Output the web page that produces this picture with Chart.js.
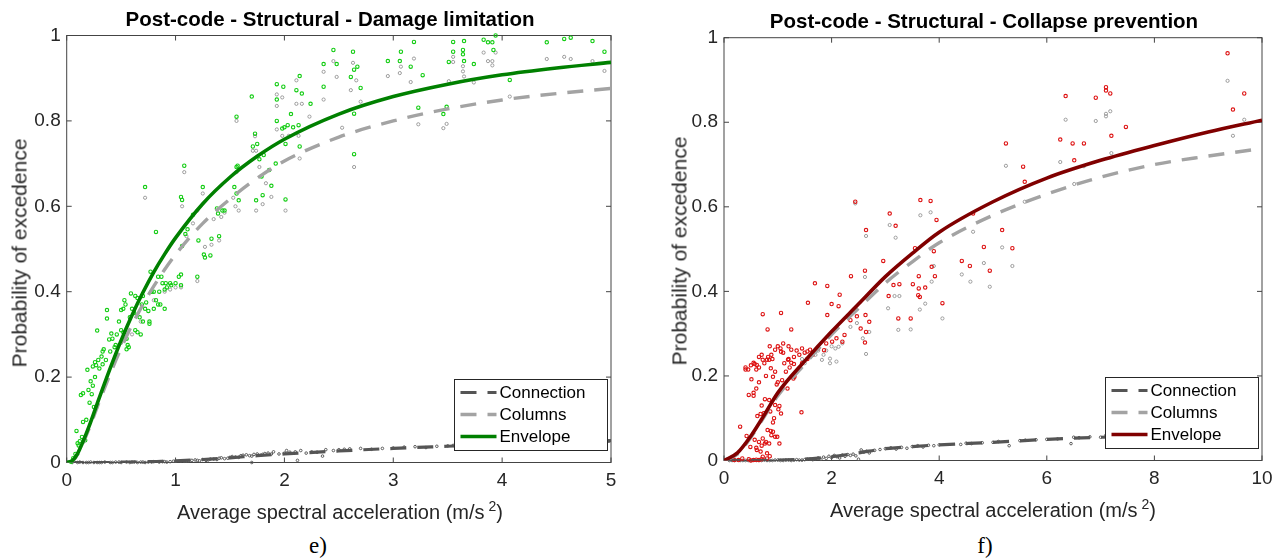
<!DOCTYPE html>
<html><head><meta charset="utf-8">
<script src="https://cdn.jsdelivr.net/npm/chart.js@4.4.1/dist/chart.umd.min.js"></script>
<style>
html,body{margin:0;padding:0;background:#fff;}
body{width:1281px;height:558px;position:relative;overflow:hidden;font-family:"Liberation Sans",Arial,Helvetica,sans-serif;color:#262626;}
canvas{position:absolute;top:0;}
.t{position:absolute;white-space:nowrap;transform:translate(-50%,-50%);line-height:1;}
.title{font-weight:bold;font-size:20.5px;color:#000;}
.xt{font-size:20px;}
.yt{font-size:21px;transform:translate(-50%,-50%) rotate(-90deg);}
.cap{font-family:"Liberation Serif","Times New Roman",serif;font-size:23px;color:#000;}
.sup{font-size:14px;position:relative;top:-8px;margin-left:4px;}
</style></head>
<body>
<canvas id="cL" width="640" height="500" style="left:0;width:640px;height:500px"></canvas>
<canvas id="cR" width="621" height="500" style="left:660px;width:621px;height:500px"></canvas>
<div class="t title" style="left:330px;top:19px">Post-code - Structural - Damage limitation</div>
<div class="t title" style="left:984px;top:21px">Post-code - Structural - Collapse prevention</div>
<div class="t yt" style="left:19px;top:253px">Probability of excedence</div>
<div class="t yt" style="left:679px;top:251px">Probability of excedence</div>
<div class="t xt" style="left:340px;top:512px">Average spectral acceleration (m/s<span class="sup">2</span>)</div>
<div class="t xt" style="left:993px;top:510px">Average spectral acceleration (m/s<span class="sup">2</span>)</div>
<div class="t cap" style="left:318px;top:545px">e)</div>
<div class="t cap" style="left:985px;top:545px">f)</div>
<script>
// ---------- Damage limitation (left) ----------
const dlXTicks = [0, 1, 2, 3, 4, 5];
const yTicks = [0, 0.2, 0.4, 0.6, 0.8, 1];
const dlCurveX = [0, 0.05, 0.1, 0.2, 0.3, 0.4, 0.5, 0.6, 0.7, 0.8, 0.9, 1.0, 1.25, 1.5, 1.75, 2, 2.5, 3, 3.5, 4, 4.5, 5];
const dlEnvelope = [0, 0.004, 0.021, 0.081, 0.152, 0.221, 0.286, 0.345, 0.398, 0.446, 0.488, 0.526, 0.606, 0.668, 0.717, 0.757, 0.816, 0.857, 0.886, 0.908, 0.924, 0.937];
const dlColumns = [0, 0.003, 0.019, 0.076, 0.143, 0.208, 0.268, 0.322, 0.37, 0.413, 0.452, 0.487, 0.56, 0.617, 0.666, 0.706, 0.762, 0.8, 0.828, 0.849, 0.864, 0.876];
const dlConnection = [0, 0, 0, 0, 0, 0, 0.001, 0.001, 0.002, 0.002, 0.003, 0.004, 0.007, 0.011, 0.016, 0.02, 0.027, 0.033, 0.038, 0.043, 0.047, 0.051];
const dlEnvPts = [[0.04,0.002],[0.06,0.01],[0.08,0.02],[0.09,0.074],[0.1,0.045],[0.12,0.05],[0.17,0.052],[0.13,0.158],[0.15,0.162],[0.15,0.095],[0.19,0.217],[0.2,0.17],[0.22,0.19],[0.24,0.18],[0.26,0.2],[0.24,0.225],[0.26,0.235],[0.27,0.228],[0.29,0.24],[0.25,0.13],[0.27,0.128],[0.28,0.309],[0.32,0.248],[0.33,0.26],[0.34,0.265],[0.37,0.357],[0.37,0.337],[0.39,0.288],[0.41,0.302],[0.44,0.27],[0.45,0.275],[0.5,0.357],[0.52,0.36],[0.5,0.31],[0.52,0.305],[0.53,0.38],[0.54,0.37],[0.55,0.29],[0.56,0.275],[0.55,0.265],[0.57,0.27],[0.59,0.396],[0.63,0.39],[0.65,0.385],[0.63,0.31],[0.65,0.305],[0.68,0.3],[0.67,0.34],[0.7,0.33],[0.72,0.36],[0.75,0.355],[0.76,0.33],[0.76,0.325],[0.73,0.375],[0.78,0.4],[0.8,0.4],[0.84,0.37],[0.86,0.37],[0.9,0.405],[0.92,0.41],[0.9,0.36],[0.88,0.42],[0.91,0.42],[0.95,0.42],[0.96,0.415],[1.0,0.42],[1.05,0.415],[0.77,0.447],[0.84,0.435],[0.87,0.435],[1.03,0.435],[1.2,0.435],[1.05,0.44],[0.11,0.04],[0.14,0.06],[0.18,0.1],[0.21,0.14],[0.23,0.16],[0.3,0.22],[0.33,0.23],[0.36,0.24],[0.4,0.26],[0.42,0.29],[0.46,0.3],[0.48,0.33],[0.58,0.34],[0.6,0.36],[0.62,0.35],[0.69,0.37],[0.7,0.39],[0.8,0.36],[0.82,0.38],[0.85,0.4],
[0.72,0.645],[1.08,0.695],[0.82,0.54],[1.05,0.622],[1.06,0.615],[1.25,0.645],[1.16,0.58],[1.11,0.546],[1.09,0.535],[1.06,0.507],[1.21,0.52],[1.26,0.487],[1.27,0.48],[1.32,0.485],[1.33,0.524],[1.38,0.595],[1.39,0.583],[1.4,0.53],[1.43,0.59],[1.45,0.59],[1.56,0.63],[1.54,0.645],[1.58,0.614],[1.56,0.692],[1.57,0.695],[1.56,0.81],[1.7,0.857],[1.71,0.74],[1.73,0.77],[1.75,0.746],[1.77,0.71],[1.79,0.67],[1.8,0.626],[1.74,0.614],[1.81,0.72],[1.86,0.685],[1.88,0.648],[1.92,0.7],[1.93,0.886],[1.93,0.85],[1.93,0.8],[1.99,0.88],[1.98,0.782],[2.0,0.785],[2.01,0.616],[2.01,0.746],[2.03,0.79],[2.08,0.785],[2.06,0.816],[2.11,0.872],[2.16,0.864],[2.14,0.905],[2.13,0.79],[2.14,0.74],[2.24,0.84],[2.36,0.933],[2.36,0.88],[2.45,0.966],[2.48,0.933],[2.61,0.903],[2.63,0.962],[2.64,0.92],[2.67,0.927],[2.7,0.877],[2.64,0.817],[2.64,0.722],[2.95,0.94],[3.06,0.94],[3.07,0.962],[3.16,0.927],[3.19,0.985],[3.27,0.907],[3.23,0.831],[3.49,0.833],[3.46,0.816],[3.51,0.938],[3.55,0.985],[3.55,0.962],[3.64,0.966],[3.64,0.956],[3.65,0.94],[3.65,0.987],[3.74,0.933],[3.83,0.99],[3.87,0.984],[3.91,0.984],[3.92,0.966],[3.94,1.0],[4.07,0.896],[4.41,0.984],[4.57,0.992],[4.63,0.995],[4.83,0.987],[4.94,0.962]];
const dlColPts = [[1.56,0.80],[1.73,0.764],[1.71,0.73],[1.74,0.73],[1.77,0.692],[1.83,0.654],[1.88,0.622],[1.74,0.59],[1.8,0.605],[1.93,0.862],[1.93,0.835],[1.93,0.78],[1.98,0.855],[1.98,0.765],[2.01,0.59],[2.04,0.765],[2.11,0.895],[2.11,0.84],[2.16,0.84],[2.13,0.765],[2.14,0.712],[2.23,0.81],[2.36,0.915],[2.36,0.85],[2.45,0.94],[2.48,0.903],[2.53,0.784],[2.61,0.872],[2.63,0.936],[2.66,0.895],[2.64,0.692],[2.7,0.845],[2.95,0.905],[3.06,0.912],[3.07,0.927],[3.16,0.891],[3.19,0.946],[3.23,0.792],[3.46,0.783],[3.49,0.793],[3.51,0.893],[3.55,0.95],[3.55,0.938],[3.64,0.928],[3.64,0.916],[3.65,0.904],[3.74,0.89],[3.83,0.96],[3.87,0.94],[3.91,0.94],[3.91,0.93],[3.94,0.96],[4.07,0.857],[4.41,0.945],[4.57,0.95],[4.63,0.945],[4.83,0.94],[4.94,0.917],
[1.2,0.59],[1.35,0.57],[1.42,0.575],[1.45,0.585],[1.55,0.6],[1.58,0.59],[1.27,0.505],[1.33,0.51],[1.4,0.52],[1.1,0.53],[1.06,0.6],[1.25,0.63],[1.53,0.62],[0.72,0.62],[0.9,0.4],[0.95,0.405],[1.0,0.41],[1.05,0.41],[1.2,0.425],[0.8,0.38],[0.68,0.33],[0.6,0.3],[0.5,0.28],[1.16,0.56],[1.08,0.68],[1.56,0.68]];
const dlConPts = [[0.05,0],[0.1,0],[0.15,0],[0.2,0],[0.25,0],[0.3,0],[0.35,0.001],[0.4,0],[0.45,0.001],[0.5,0],[0.55,0.001],[0.6,0.001],[0.65,0],[0.7,0.001],[0.75,0.001],[0.8,0.002],[0.85,0.001],[0.9,0.002],[0.95,0.002],[1.0,0.003],[1.05,0.004],[1.1,0.003],[1.15,0.005],[1.2,0.005],[1.25,0.007],[1.3,0.006],[1.35,0.008],[1.4,0.01],[1.45,0.009],[1.5,0.012],[1.55,0.013],[1.6,0.016],[1.65,0.018],[1.7,0.015],[1.7,0.0],[1.75,0.02],[1.8,0.019],[1.85,0.022],[1.9,0.025],[1.95,0.02],[2.0,0.022],[2.02,0.028],[2.05,0.024],[2.1,0.025],[2.12,0.005],[2.15,0.028],[2.2,0.022],[2.25,0.025],[2.3,0.024],[2.35,0.015],[2.38,0.03],[2.45,0.028],[2.5,0.03],[2.55,0.031],[2.6,0.032],[2.7,0.033],[2.8,0.031],[2.9,0.033],[3.0,0.034],[3.1,0.036],[3.2,0.037],[3.3,0.035],[3.4,0.038],[3.5,0.039],[3.55,0.04],[3.6,0.041],[3.65,0.038],[3.7,0.04],[3.75,0.041],[3.9,0.042],[4.1,0.044],[4.95,0.046],[4.98,0.05],
[0.12,0.001],[0.18,0.0],[0.22,0.001],[0.28,0.0],[0.32,0.0],[0.42,0.0],[0.48,0.001],[0.58,0.0],[0.62,0.001],[0.68,0.001],[0.72,0.0],[0.78,0.001],[0.88,0.002],[0.92,0.001],[0.98,0.003],[1.08,0.003],[1.12,0.004],[1.18,0.006],[1.22,0.004],[1.28,0.005],[1.32,0.008],[1.38,0.007],[1.42,0.011],[1.48,0.01],[1.52,0.014],[1.58,0.012],[1.62,0.017],[1.68,0.016],[1.72,0.019],[1.78,0.017],[1.82,0.021],[1.88,0.02]];

// ---------- Collapse prevention (right) ----------
const cpXTicks = [0, 2, 4, 6, 8, 10];
const cpCurveX = [0, 0.25, 0.5, 0.75, 1, 1.5, 2, 2.5, 3, 3.5, 4, 5, 6, 7, 8, 9, 10];
const cpEnvelope = [0, 0.018, 0.058, 0.108, 0.16, 0.235, 0.305, 0.37, 0.435, 0.49, 0.54, 0.612, 0.668, 0.71, 0.745, 0.777, 0.805];
const cpColumns = [0, 0.015, 0.055, 0.104, 0.153, 0.228, 0.298, 0.36, 0.42, 0.47, 0.515, 0.58, 0.63, 0.67, 0.70, 0.72, 0.738];
const cpConnection = [0, 0, 0, 0, 0.001, 0.003, 0.009, 0.018, 0.028, 0.033, 0.037, 0.043, 0.05, 0.055, 0.058, 0.061, 0.064];
const cpEnvPts = [[2.44,0.612],[2.64,0.545],[2.62,0.449],[2.36,0.436],[2.96,0.472],[3.08,0.584],[3.19,0.555],[3.55,0.502],[3.65,0.616],[3.84,0.614],[3.95,0.569],[3.9,0.495],[3.86,0.458],[3.62,0.436],[3.92,0.436],[4.42,0.472],[4.57,0.46],[4.63,0.584],[4.83,0.505],[4.94,0.449],[5.17,0.545],[5.24,0.75],[5.36,0.502],[5.56,0.695],[5.59,0.659],[6.25,0.759],[6.35,0.862],[6.48,0.75],[6.51,0.71],[6.69,0.75],[6.91,0.858],[7.1,0.883],[7.1,0.875],[7.18,0.868],[7.2,0.768],[7.47,0.789],[9.36,0.963],[9.46,0.83],[9.67,0.868],
[0.30,0.08],[0.40,0.22],[0.40,0.215],[0.46,0.155],[0.55,0.153],[0.51,0.192],[0.55,0.231],[0.57,0.228],[0.61,0.226],[0.65,0.22],[0.72,0.346],[0.81,0.31],[1.06,0.349],[1.25,0.31],[1.56,0.373],[1.69,0.419],[1.92,0.413],[2.0,0.37],[2.13,0.365],[2.15,0.392],[1.92,0.344],[1.75,0.265],[1.86,0.261],[2.01,0.281],[1.9,0.277],[2.09,0.289],[2.24,0.297],[2.2,0.281],[2.35,0.332],[2.47,0.341],[2.63,0.344],[2.54,0.312],[2.64,0.304],[2.7,0.328],[2.62,0.279],[3.06,0.389],[3.15,0.415],[3.26,0.417],[3.51,0.417],[3.62,0.407],[3.74,0.409],[3.24,0.336],[3.47,0.336],[3.61,0.391],[3.64,0.387],[4.06,0.372],
[0.95,0.262],[1.0,0.27],[1.05,0.265],[1.1,0.255],[1.2,0.27],[1.25,0.262],[1.3,0.245],[1.35,0.26],[1.4,0.25],[1.45,0.265],[1.5,0.255],[1.55,0.258],[1.6,0.262],[1.65,0.25],[1.55,0.24],[1.45,0.23],[1.3,0.228],[1.2,0.24],[0.72,0.238],[0.65,0.245],[0.8,0.238],[0.84,0.238],[0.87,0.218],[0.95,0.21],[0.91,0.198],[1.1,0.277],[1.06,0.257],[1.12,0.23],[1.19,0.238],[1.25,0.231],[1.29,0.194],[1.31,0.198],[1.03,0.129],[0.95,0.131],[1.01,0.121],[1.06,0.111],[0.99,0.056],[1.44,0.114],[0.76,0.145],[0.84,0.143],[0.86,0.116],[0.74,0.112],[0.91,0.09],[0.95,0.056],[0.42,0.058],[0.57,0.049],[0.65,0.044],[0.72,0.052],[0.76,0.04],[0.78,0.044],[0.84,0.04],[0.49,0.032],[0.61,0.025],[0.68,0.021],[0.8,0.017],[0.72,0.009],[0.34,0.005],[0.27,0.001],[0.19,0.001],[0.46,0.003],[0.55,0.001],[0.65,0.001],[1.03,0.04],[0.91,0.068],[0.87,0.07],[0.81,0.072],
[0.55,0.16],[0.6,0.17],[0.62,0.105],[0.68,0.11],[0.7,0.13],[0.78,0.2],[0.82,0.245],[0.88,0.25],[0.9,0.24],[0.98,0.18],[1.0,0.185],[1.08,0.19],[1.15,0.21],[1.18,0.17],[1.22,0.22],[0.45,0.215],[0.5,0.225],[0.6,0.215],[0.65,0.185],[0.7,0.25],[0.75,0.23],[0.85,0.27],[0.88,0.06],[0.93,0.1],[0.5,0.0],[0.6,0.002],[0.7,0.003],[0.8,0.005],[0.85,0.01],[0.6,0.03],[0.7,0.035]];
const cpColPts = [[2.44,0.608],[2.64,0.531],[2.62,0.434],[3.08,0.557],[3.19,0.527],[3.65,0.58],[3.84,0.587],[3.9,0.46],[4.42,0.44],[4.63,0.541],[4.83,0.467],[5.17,0.504],[5.24,0.697],[5.36,0.46],[5.59,0.612],[6.25,0.706],[6.35,0.806],[6.51,0.654],[6.69,0.696],[6.91,0.803],[7.1,0.82],[7.1,0.814],[7.18,0.826],[7.2,0.727],[9.36,0.898],[9.46,0.768],[9.67,0.806],
[1.82,0.238],[1.97,0.241],[1.97,0.23],[2.07,0.265],[2.13,0.269],[2.2,0.277],[2.09,0.234],[2.58,0.289],[2.64,0.252],[2.7,0.304],[3.05,0.36],[3.17,0.389],[3.26,0.389],[3.24,0.309],[3.47,0.31],[3.64,0.357],[3.74,0.371],[4.06,0.336],[3.86,0.423],[4.58,0.423],[4.94,0.411],[2.47,0.325],[2.35,0.316],[1.6,0.245],[1.7,0.25],[1.75,0.26],[1.85,0.25],[1.9,0.26],[2.0,0.27],[1.45,0.24],[1.5,0.23]];
const cpConPts = [[0.1,0],[0.2,0],[0.3,0],[0.4,0],[0.5,0],[0.6,0],[0.7,0],[0.8,0],[0.9,0],[1.0,0.001],[1.1,0],[1.2,0.001],[1.3,0.001],[1.4,0.001],[1.5,0.002],[1.6,0.003],[1.7,0.004],[1.75,0.006],[1.8,0.003],[1.85,0.008],[1.9,0.005],[1.95,0.01],[2.0,0.007],[2.05,0.012],[2.1,0.009],[2.15,0.006],[2.2,0.013],[2.25,0.01],[2.3,0.014],[2.35,0.012],[2.4,0.015],[2.45,0.011],[2.5,0.003],[2.55,0.025],[2.6,0.02],[2.65,0.022],[2.7,0.018],[2.8,0.024],[2.9,0.026],[3.0,0.028],[3.1,0.03],[3.2,0.027],[3.3,0.031],[3.4,0.029],[3.5,0.033],[3.6,0.035],[3.7,0.032],[3.8,0.036],[3.9,0.035],[4.0,0.037],[4.4,0.038],[4.5,0.041],[4.6,0.04],[4.8,0.042],[5.0,0.043],[5.1,0.045],[5.3,0.035],[5.5,0.047],[5.6,0.048],[5.8,0.049],[6.0,0.05],[6.2,0.051],[6.45,0.04],[6.5,0.055],[6.6,0.054],[6.8,0.056],[7.0,0.055],[7.1,0.06],[9.9,0.062],
[0.15,0.0],[0.25,0.001],[0.35,0],[0.45,0.0],[0.55,0.001],[0.65,0],[0.75,0.001],[0.85,0],[0.95,0.001],[1.05,0],[1.15,0.001],[1.25,0],[1.35,0.002],[1.45,0.001],[1.55,0.003],[1.65,0.002]];

// ---------- helpers ----------
const FONT = '"Liberation Sans", Arial, Helvetica, sans-serif';
const toPts = a => a.map(p => ({x: p[0], y: p[1]}));
const toCurve = (xs, ys) => xs.map((x, i) => ({x: x, y: ys[i]}));
const fmt = v => String(Math.round(v * 100) / 100);

const matlabBox = {
  id: 'matlabBox',
  beforeDatasetsDraw(chart, args, o) {
    const {ctx, chartArea: a, scales: {x, y}} = chart;
    ctx.save();
    ctx.strokeStyle = o.color; ctx.lineWidth = 1;
    ctx.strokeRect(a.left, a.top, a.right - a.left, a.bottom - a.top);
    ctx.beginPath();
    x.ticks.forEach(t => { const px = x.getPixelForValue(t.value);
      ctx.moveTo(px, a.bottom); ctx.lineTo(px, a.bottom - o.len);
      ctx.moveTo(px, a.top); ctx.lineTo(px, a.top + o.len); });
    y.ticks.forEach(t => { const py = y.getPixelForValue(t.value);
      ctx.moveTo(a.left, py); ctx.lineTo(a.left + o.len, py);
      ctx.moveTo(a.right, py); ctx.lineTo(a.right - o.len, py); });
    ctx.stroke(); ctx.restore();
  }
};
const boxLegend = {
  id: 'boxLegend',
  afterDraw(chart, args, o) {
    const {ctx, chartArea: a} = chart;
    const items = chart.data.datasets.filter(d => d.inLegend);
    const x0 = a.right - o.right - o.width, y0 = a.bottom - o.bottom - o.height;
    ctx.save();
    ctx.fillStyle = '#fff'; ctx.fillRect(x0, y0, o.width, o.height);
    ctx.strokeStyle = '#262626'; ctx.lineWidth = 1; ctx.strokeRect(x0, y0, o.width, o.height);
    items.forEach((d, i) => {
      const cy = y0 + o.first + i * o.step;
      ctx.beginPath(); ctx.setLineDash(d.borderDash || []);
      ctx.strokeStyle = d.borderColor; ctx.lineWidth = d.borderWidth;
      ctx.moveTo(x0 + o.lineStart, cy); ctx.lineTo(x0 + o.lineEnd, cy); ctx.stroke();
      ctx.setLineDash([]);
      ctx.fillStyle = '#000'; ctx.font = o.font; ctx.textBaseline = 'middle';
      ctx.fillText(d.label, x0 + o.textStart, cy + 1);
    });
    ctx.restore();
  }
};

function makeChart(id, cfg) {
  const DASH = [16, 11];
  const datasets = [
    {label: 'Connection', inLegend: true, type: 'line', data: toCurve(cfg.cx, cfg.con), borderColor: '#555555', borderWidth: 3.2, borderDash: DASH, pointRadius: 0, cubicInterpolationMode: 'monotone', fill: false, order: 2},
    {label: 'Columns', inLegend: true, type: 'line', data: toCurve(cfg.cx, cfg.col), borderColor: '#a3a3a3', borderWidth: 3.4, borderDash: DASH, pointRadius: 0, cubicInterpolationMode: 'monotone', fill: false, order: 1},
    {label: 'Envelope', inLegend: true, type: 'line', data: toCurve(cfg.cx, cfg.env), borderColor: cfg.envColor, borderWidth: 3.6, pointRadius: 0, cubicInterpolationMode: 'monotone', fill: false, order: 0},
    {label: 'Envelope points', data: toPts(cfg.envPts), borderColor: cfg.ptColor, backgroundColor: 'rgba(255,255,255,0)', pointRadius: 1.7, pointBorderWidth: 1.1, clip: false, order: 3},
    {label: 'Columns points', data: toPts(cfg.colPts), borderColor: '#9c9c9c', backgroundColor: 'rgba(255,255,255,0)', pointRadius: 1.6, pointBorderWidth: 1, clip: false, order: 4},
    {label: 'Connection points', data: toPts(cfg.conPts), borderColor: '#5a5a5a', backgroundColor: 'rgba(255,255,255,0)', pointRadius: 1.3, pointBorderWidth: 1, clip: false, order: 5}
  ];
  return new Chart(document.getElementById(id), {
    type: 'scatter',
    data: {datasets},
    options: {
      responsive: false, animation: false, devicePixelRatio: 1,
      layout: {padding: cfg.pad},
      plugins: {
        legend: {display: false}, tooltip: {enabled: false}, title: {display: false},
        matlabBox: {color: '#444444', len: 5},
        boxLegend: {width: 153, height: 71, right: 3.5, bottom: 12, first: 13, step: 22, lineStart: 6, lineEnd: 42, textStart: 45, font: '17px ' + FONT}
      },
      scales: {
        x: {type: 'linear', min: 0, max: cfg.xmax,
          afterBuildTicks: s => { s.ticks = cfg.xt.map(v => ({value: v})); },
          afterFit: s => { s.height = cfg.xh; },
          grid: {display: false, drawTicks: false}, border: {display: false},
          ticks: {font: {family: FONT, size: 19}, color: '#262626', padding: 7, maxRotation: 0, callback: fmt}},
        y: {type: 'linear', min: 0, max: 1,
          afterBuildTicks: s => { s.ticks = yTicks.map(v => ({value: v})); },
          afterFit: s => { s.width = cfg.yw; },
          grid: {display: false, drawTicks: false}, border: {display: false},
          ticks: {font: {family: FONT, size: 19}, color: '#262626', padding: 6, callback: fmt}}
      }
    },
    plugins: [matlabBox, boxLegend]
  });
}

makeChart('cL', {cx: dlCurveX, env: dlEnvelope, col: dlColumns, con: dlConnection,
  envPts: dlEnvPts, colPts: dlColPts, conPts: dlConPts, envColor: '#008000', ptColor: '#11cc11',
  xmax: 5, xt: dlXTicks, xh: 37.5, yw: 66.7, pad: {left: 0, top: 35.5, right: 29, bottom: 0}});
makeChart('cR', {cx: cpCurveX, env: cpEnvelope, col: cpColumns, con: cpConnection,
  envPts: cpEnvPts, colPts: cpColPts, conPts: cpConPts, envColor: '#800000', ptColor: '#dd1111',
  xmax: 10, xt: cpXTicks, xh: 39.5, yw: 64, pad: {left: 0, top: 37.7, right: 19, bottom: 0}});
</script>
</body></html>
